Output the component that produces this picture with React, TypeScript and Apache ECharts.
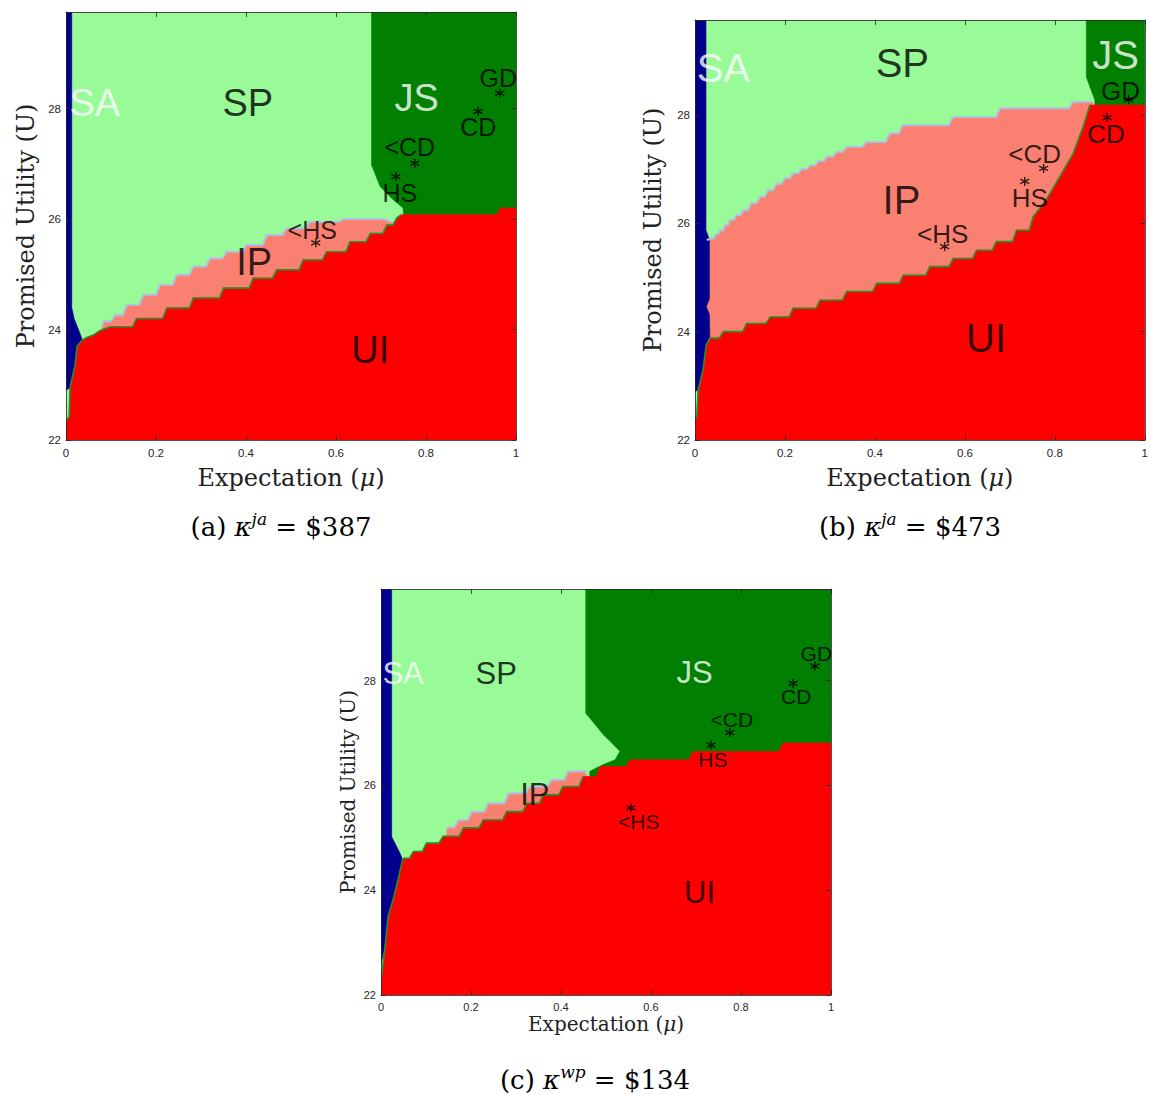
import React, { useEffect, useRef } from "react";
import * as echarts from "echarts";

// ---------------- data ----------------
const xTicks = [0, 0.2, 0.4, 0.6, 0.8, 1];
const yTicks = [22, 24, 26, 28];
const yTop = 29.75;

const starNames = ["<HS", "HS", "<CD", "CD", "GD"];
const starX = [0.555, 0.733, 0.775, 0.916, 0.964];
const starY = [25.57, 26.77, 27.01, 27.95, 28.28];

const captionTags = ["(a)", "(b)", "(c)"];
const captionSup = ["ja", "ja", "wp"];
const captionVal = ["$387", "$473", "$134"];

// third element 1 = stair step into this point
// ---- panel (a)
const saA = [[0, 29.75], [0.0127, 29.75], [0.0127, 24.4], [0.018, 24.2], [0.03, 23.95], [0.036, 23.82], [0.025, 23.7], [0.02, 23.35], [0.01, 22.95], [0, 22.9]];
const jsA = [[0.679, 29.75], [1, 29.75], [1, 26.08], [0.75, 26.08], [0.749, 26.2], [0.727, 26.35], [0.698, 26.59], [0.679, 26.98]];
const ipTopA = [[0.08, 24.05], [0.083, 24.15], [0.109, 24.26, 1], [0.135, 24.45, 1], [0.172, 24.63, 1], [0.209, 24.81, 1], [0.246, 24.99, 1], [0.283, 25.14, 1], [0.32, 25.29, 1], [0.357, 25.41, 1], [0.401, 25.53, 1], [0.446, 25.71, 1], [0.49, 25.83, 1], [0.542, 25.95, 1], [0.616, 26.0, 1], [0.705, 26.0], [0.725, 25.95]];
const uiTopA = [[0, 22.35], [0.007, 22.42], [0.009, 22.95], [0.02, 23.35], [0.025, 23.7], [0.035, 23.8], [0.045, 23.85], [0.061, 23.9], [0.075, 23.98], [0.098, 24.05], [0.157, 24.2, 1], [0.224, 24.39, 1], [0.283, 24.57, 1], [0.35, 24.75, 1], [0.416, 24.93, 1], [0.468, 25.08, 1], [0.527, 25.26, 1], [0.579, 25.41, 1], [0.631, 25.59, 1], [0.676, 25.74, 1], [0.713, 25.89, 1], [0.735, 26.02, 1], [0.745, 26.08], [0.957, 26.08], [0.965, 26.2], [1, 26.2]];
const labelsA = [["SA", 0.064, 28.1], ["SP", 0.404, 28.1], ["JS", 0.779, 28.2], ["IP", 0.418, 25.22], ["UI", 0.676, 23.63]];

// ---- panel (b)
const saB = [[0, 29.75], [0.0244, 29.75], [0.0244, 25.87], [0.032, 25.7], [0.032, 24.6], [0.025, 24.46], [0.032, 24.32], [0.033, 23.88], [0.025, 23.75], [0.018, 23.3], [0.007, 22.92], [0, 22.9]];
const jsB = [[0.87, 29.75], [1, 29.75], [1, 28.18], [0.889, 28.18], [0.889, 28.27], [0.87, 28.7]];
const ipTopB = [[0.026, 25.69], [0.037, 25.72], [0.046, 25.8, 1], [0.056, 25.87, 1], [0.067, 25.97, 1], [0.078, 26.06, 1], [0.092, 26.15, 1], [0.107, 26.24, 1], [0.125, 26.37, 1], [0.144, 26.49, 1], [0.162, 26.61, 1], [0.181, 26.73, 1], [0.2, 26.83, 1], [0.218, 26.92, 1], [0.237, 27.0, 1], [0.256, 27.07, 1], [0.275, 27.15, 1], [0.293, 27.23, 1], [0.315, 27.32, 1], [0.337, 27.41, 1], [0.381, 27.5, 1], [0.433, 27.66, 1], [0.462, 27.81, 1], [0.573, 27.96, 1], [0.678, 28.12, 1], [0.84, 28.24, 1], [0.884, 28.24]];
const uiTopB = [[0, 22.4], [0.004, 22.43], [0.007, 22.92], [0.018, 23.3], [0.025, 23.75], [0.033, 23.88], [0.063, 24.0, 1], [0.115, 24.15, 1], [0.167, 24.27, 1], [0.218, 24.43, 1], [0.278, 24.58, 1], [0.337, 24.74, 1], [0.404, 24.89, 1], [0.463, 25.04, 1], [0.522, 25.2, 1], [0.574, 25.35, 1], [0.626, 25.5, 1], [0.67, 25.66, 1], [0.715, 25.87, 1], [0.752, 26.12, 1], [0.781, 26.43], [0.811, 26.86], [0.841, 27.29], [0.863, 27.78], [0.878, 28.18], [0.889, 28.18], [1, 28.18]];
const labelsB = [["SA", 0.063, 28.87], ["SP", 0.461, 28.95], ["JS", 0.935, 29.1], ["IP", 0.459, 26.43], ["UI", 0.647, 23.88]];

// ---- panel (c)
const saC = [[0, 29.75], [0.0237, 29.75], [0.0237, 25.02], [0.042, 24.71], [0.048, 24.58], [0.038, 24.2], [0.027, 23.82], [0.016, 23.5], [0.009, 22.92], [0, 22.6]];
const jsC = [[0.455, 29.75], [1, 29.75], [1, 26.0], [0.464, 26.0], [0.464, 26.27], [0.494, 26.4], [0.52, 26.49], [0.531, 26.65], [0.513, 26.81], [0.494, 26.97], [0.479, 27.13], [0.455, 27.38]];
const ipTopC = [[0.146, 25.17], [0.15, 25.2], [0.172, 25.34, 1], [0.202, 25.5, 1], [0.238, 25.66, 1], [0.283, 25.85, 1], [0.33, 25.98, 1], [0.379, 26.11, 1], [0.416, 26.27, 1], [0.453, 26.27], [0.458, 26.2]];
const uiTopC = [[0, 22.3], [0.0015, 22.35], [0.009, 22.92], [0.016, 23.5], [0.027, 23.82], [0.038, 24.2], [0.048, 24.58], [0.05, 24.61], [0.072, 24.74, 1], [0.101, 24.9, 1], [0.138, 25.03, 1], [0.183, 25.19, 1], [0.227, 25.34, 1], [0.279, 25.5, 1], [0.324, 25.66, 1], [0.361, 25.82, 1], [0.404, 25.98, 1], [0.449, 26.17, 1], [0.487, 26.36, 1], [0.553, 26.49, 1], [0.693, 26.65, 1], [0.893, 26.81, 1], [1, 26.81]];
const labelsC = [["SA", 0.049, 28.13], ["SP", 0.256, 28.13], ["JS", 0.697, 28.15], ["IP", 0.342, 25.82], ["UI", 0.708, 23.96]];

const DATA = [
  { sa: saA, js: jsA, ipTop: ipTopA, uiTop: uiTopA, labels: labelsA },
  { sa: saB, js: jsB, ipTop: ipTopB, uiTop: uiTopB, labels: labelsB },
  { sa: saC, js: jsC, ipTop: ipTopC, uiTop: uiTopC, labels: labelsC },
];

// ---------------- layout / style ----------------
const COLORS = { SA: "#00008c", SP: "#98fb98", JS: "#007f00", IP: "#fa8072", UI: "#ff0000" };
const LINE_BLUE = "#aac4e2";
const LINE_GREEN = "#2a8f2a";
const AX = "#262626";
const FONT_SANS = "'Liberation Sans', Arial, Helvetica, sans-serif";
const FONT_SERIF = "'DejaVu Serif', serif";
const STAR_PATH = "path://M0,-10L0,10M-8.66,-5L8.66,5M-8.66,5L8.66,-5";

const PANELS = [
  {
    grid: { left: 66, top: 12, width: 450, height: 428 },
    big: 38, small: 25, tick: 11.5, title: 24, xGap: 26, yGap: 28, xMargin: 7, yMargin: 5,
    caption: [281, 527], lineEnd: 0.745,
    starOffsets: [[-3.5, -13], [4, 16], [-5, -16], [0, 16], [-1.5, -15]],
  },
  {
    grid: { left: 695, top: 20, width: 450, height: 420 },
    big: 40, small: 26, tick: 11.5, title: 24, xGap: 26, yGap: 30, xMargin: 7, yMargin: 5,
    caption: [910, 527], lineEnd: 0.879,
    starOffsets: [[-2, -13], [5, 17], [-9, -14], [-1, 16], [-8, -9]],
  },
  {
    grid: { left: 381, top: 589, width: 450, height: 406 },
    big: 31, small: 21, tick: 11, title: 20, xGap: 19, yGap: 23, xMargin: 6, yMargin: 5,
    caption: [595, 1080], lineEnd: 0.465,
    starOffsets: [[8, 14], [2, 14], [2, -13], [3, 13.5], [1.5, -13]],
  },
];

function expandSteps(pts: number[][]): number[][] {
  const out: number[][] = [];
  for (let i = 0; i < pts.length; i++) {
    const p = pts[i];
    if (i > 0 && p[2]) {
      const q = pts[i - 1];
      const d = Math.min(0.009, (p[0] - q[0]) * 0.4);
      out.push([p[0] - d, q[1]]);
    }
    out.push([p[0], p[1]]);
  }
  return out;
}

function buildOption() {
  const grid: any[] = [];
  const xAxis: any[] = [];
  const yAxis: any[] = [];
  const series: any[] = [];
  const graphic: any[] = [];

  PANELS.forEach((P, i) => {
    const D = DATA[i];
    grid.push({ ...P.grid });
    const axisLine = { show: true, onZero: false, lineStyle: { color: AX, width: 0.8 } };
    const axisTick = { show: true, inside: true, length: 5, lineStyle: { color: AX, width: 0.8 } };
    const xBase = { type: "value", gridIndex: i, min: xTicks[0], max: xTicks[xTicks.length - 1], interval: 0.2, z: 10, axisLine, axisTick, splitLine: { show: false } };
    const yBase = { type: "value", gridIndex: i, min: yTicks[0], max: yTop, interval: 2, z: 10, axisLine, axisTick, splitLine: { show: false } };
    xAxis.push({
      ...xBase, position: "bottom",
      axisLabel: { fontSize: P.tick, color: AX, fontFamily: FONT_SANS, margin: P.xMargin, formatter: (v: number) => String(Math.round(v * 10) / 10) },
      name: "Expectation ({i|μ})", nameLocation: "middle", nameGap: P.xGap,
      nameTextStyle: { fontFamily: FONT_SERIF, fontSize: P.title, color: "#222", rich: { i: { fontFamily: FONT_SERIF, fontStyle: "italic", fontSize: P.title, color: "#222" } } },
    });
    xAxis.push({ ...xBase, position: "top", axisLabel: { show: false } });
    yAxis.push({
      ...yBase, position: "left",
      axisLabel: { fontSize: P.tick, color: AX, fontFamily: FONT_SANS, margin: P.yMargin, formatter: (v: number) => (yTicks.indexOf(Math.round(v * 1000) / 1000) >= 0 ? String(Math.round(v)) : "") },
      name: "Promised Utility (U)", nameLocation: "middle", nameGap: P.yGap,
      nameTextStyle: { fontFamily: FONT_SERIF, fontSize: P.title, color: "#222" },
    });
    yAxis.push({ ...yBase, position: "right", axisLabel: { show: false } });

    const lastIp = D.ipTop[D.ipTop.length - 1];
    const shapes = [
      { fill: COLORS.SP, pts: [[xTicks[0], yTicks[0]], [1, yTicks[0]], [1, yTop], [0, yTop]] },
      { fill: COLORS.JS, pts: D.js },
      { fill: COLORS.IP, pts: [...D.ipTop, [lastIp[0], yTicks[0]], [D.ipTop[0][0], yTicks[0]]] },
      { fill: COLORS.SA, pts: D.sa },
      { fill: COLORS.UI, pts: [...D.uiTop, [1, yTicks[0]], [0, yTicks[0]]] },
    ];
    series.push({
      type: "custom", coordinateSystem: "cartesian2d", xAxisIndex: 2 * i, yAxisIndex: 2 * i,
      silent: true, z: 1, clip: true,
      data: shapes.map(() => [0.5, 25]),
      renderItem: (params: any, api: any) => {
        const s = shapes[params.dataIndex];
        const pts = expandSteps(s.pts).map((p) => api.coord([p[0], p[1]]));
        return { type: "polygon", shape: { points: pts }, style: { fill: s.fill, stroke: s.fill, lineWidth: 0.6 } };
      },
    });

    const lines = [
      { color: LINE_BLUE, width: 2, pts: D.ipTop },
      { color: LINE_GREEN, width: 1.6, pts: D.uiTop.filter((p) => p[0] <= P.lineEnd) },
    ];
    series.push({
      type: "custom", coordinateSystem: "cartesian2d", xAxisIndex: 2 * i, yAxisIndex: 2 * i,
      silent: true, z: 2, clip: true,
      data: lines.map(() => [0.5, 25]),
      renderItem: (params: any, api: any) => {
        const l = lines[params.dataIndex];
        const pts = expandSteps(l.pts).map((p) => api.coord([p[0], p[1]]));
        return { type: "polyline", shape: { points: pts }, style: { fill: "none", stroke: l.color, lineWidth: l.width } };
      },
    });

    series.push({
      type: "scatter", xAxisIndex: 2 * i, yAxisIndex: 2 * i, silent: true, z: 4,
      symbolSize: 1, itemStyle: { color: "rgba(0,0,0,0)" },
      data: D.labels.map((l: any) => ({
        name: l[0], value: [l[1], l[2]],
        label: { color: l[0] === "SA" || l[0] === "JS" ? "#ffffff" : "#000000" },
      })),
      label: { show: true, position: "inside", formatter: "{b}", fontSize: P.big, lineHeight: Math.round(P.big * 0.8), fontFamily: FONT_SANS },
    });

    series.push({
      type: "scatter", xAxisIndex: 2 * i, yAxisIndex: 2 * i, silent: true, z: 5,
      symbol: STAR_PATH, symbolSize: 9,
      itemStyle: { color: "rgba(0,0,0,0)", borderColor: "#000", borderWidth: 1.4 },
      data: starNames.map((n, k) => ({ name: n, value: [starX[k], starY[k]], label: { offset: P.starOffsets[k] } })),
      label: { show: true, position: "inside", formatter: "{b}", color: "#000", fontSize: P.small, lineHeight: Math.round(P.small * 0.8), fontFamily: FONT_SANS },
    });

    graphic.push({
      type: "text", x: P.caption[0], y: P.caption[1], silent: true,
      style: {
        text: `{n|${captionTags[i]} }{k|κ}{s|${captionSup[i]}}{n| = ${captionVal[i]}}`,
        align: "center", verticalAlign: "middle",
        rich: {
          n: { fontFamily: FONT_SERIF, fontSize: 26, lineHeight: 34, fill: "#000" },
          k: { fontFamily: FONT_SERIF, fontStyle: "italic", fontSize: 26, lineHeight: 34, fill: "#000" },
          s: { fontFamily: FONT_SERIF, fontStyle: "italic", fontSize: 17, lineHeight: 20, verticalAlign: "top", fill: "#000" },
        },
      },
    });
  });

  return { animation: false, backgroundColor: "#ffffff", grid, xAxis, yAxis, series, graphic };
}

export default function App() {
  const ref = useRef<HTMLDivElement>(null);
  useEffect(() => {
    if (!ref.current) return;
    const chart = echarts.init(ref.current, null, { renderer: "svg" });
    chart.setOption(buildOption() as any);
    return () => chart.dispose();
  }, []);
  return <div ref={ref} style={{ position: "absolute", left: 0, top: 0, width: 1151, height: 1095, background: "#fff" }} />;
}
